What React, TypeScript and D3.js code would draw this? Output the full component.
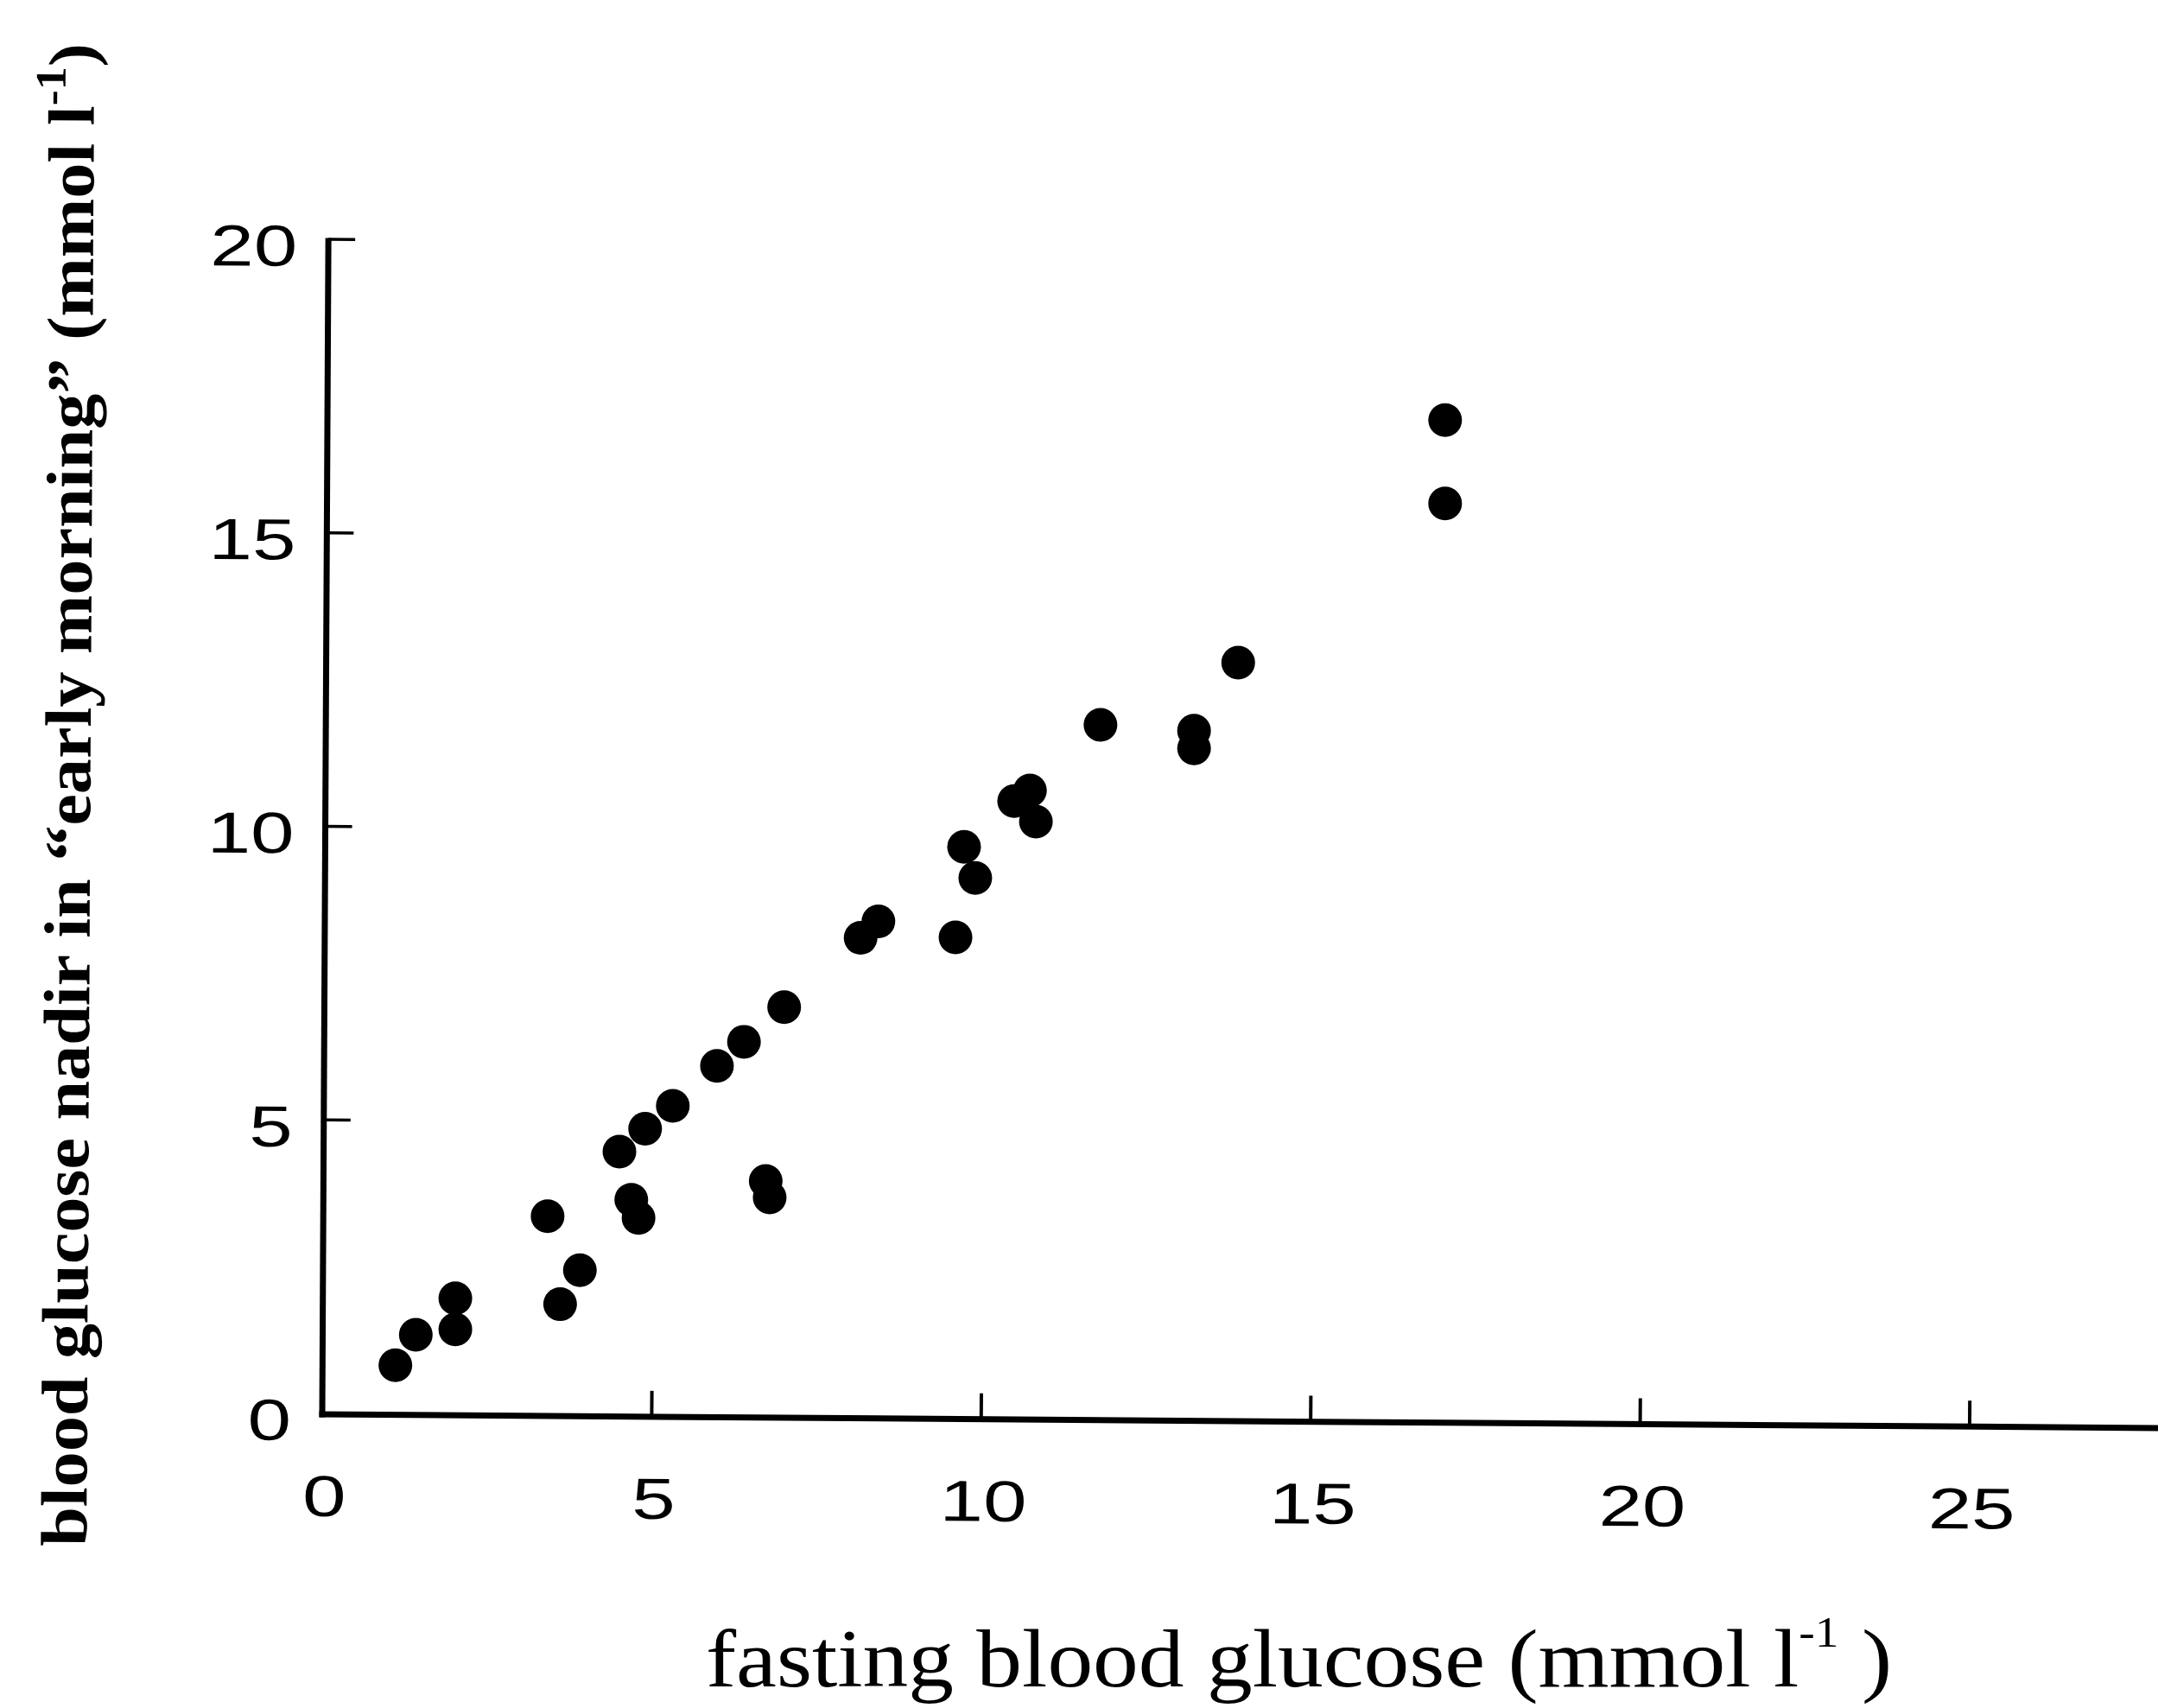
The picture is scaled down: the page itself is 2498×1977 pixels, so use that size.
import React from "react";
import * as d3 from "d3";

// fasting blood glucose (mmol/l) — x values
const fastingGlucose = [
  1.11, 1.42, 2.02, 2.02, 3.42, 3.61, 3.91, 4.51, 4.69, 4.8, 4.9, 5.32, 5.99, 6.4,
  6.73, 6.79, 7.01, 8.17, 8.44, 9.61, 9.74, 9.91, 10.5, 10.74, 10.83, 11.81, 13.23,
  13.23, 13.9, 17.04, 17.04,
];
// blood glucose nadir in "early morning" (mmol/l) — y values
const nadirGlucose = [
  0.82, 1.34, 1.96, 1.43, 3.36, 1.86, 2.44, 4.46, 3.64, 3.33, 4.85, 5.24, 5.92, 6.33,
  3.96, 3.68, 6.92, 8.1, 8.38, 8.11, 9.65, 9.12, 10.43, 10.61, 10.08, 11.73, 11.63,
  11.33, 12.79, 16.92, 15.5,
];
const xTickValues = [0, 5, 10, 15, 20, 25];
const yTickValues = [0, 5, 10, 15, 20];
const xTitleMain = "fasting blood glucose (mmol l";
const yTitleMain = "blood glucose nadir in \u201Cearly morning\u201D (mmol l";
const unitSup = "-1";

const W = 2498;
const H = 1977;
const X0 = 373;
const Y0 = 1637;

export default function App() {
  const x = d3.scaleLinear().domain([0, 25]).range([373, 2280]);
  const y = d3.scaleLinear().domain([0, 20]).range([1636, 277]);
  const points = fastingGlucose.map((v, i) => [v, nadirGlucose[i]]);
  const sans = "'Liberation Sans', Arial, sans-serif";
  const serif = "'Liberation Serif', 'Times New Roman', serif";

  return (
    <svg
      width={W}
      height={H}
      viewBox={`0 0 ${W} ${H}`}
      style={{ position: "absolute", left: 0, top: 0, background: "#fff" }}
    >
      <rect width={W} height={H} fill="#fff" />

      {/* Y axis */}
      <g transform={`rotate(0.3 ${X0} ${Y0})`}>
        <line x1={X0} x2={X0} y1={y(20) - 1.5} y2={Y0 + 3.5} stroke="#000" strokeWidth={7} />
        {yTickValues
          .filter((v) => v > 0)
          .map((v) => (
            <line key={v} x1={X0} x2={X0 + 31} y1={y(v)} y2={y(v)} stroke="#000" strokeWidth={3.5} />
          ))}
        {yTickValues.map((v) => (
          <text
            key={v}
            transform={`translate(337 ${y(v) + 31}) scale(1.35 1)`}
            textAnchor="end"
            fontFamily={sans}
            fontSize={67}
            fill="#000"
          >
            {v}
          </text>
        ))}
      </g>

      {/* X axis */}
      <g transform={`rotate(0.43 ${X0} ${Y0})`}>
        <line x1={X0 - 3.5} x2={W + 20} y1={Y0} y2={Y0} stroke="#000" strokeWidth={7} />
        {xTickValues
          .filter((v) => v > 0)
          .map((v) => (
            <line key={v} x1={x(v)} x2={x(v)} y1={Y0} y2={Y0 - 30} stroke="#000" strokeWidth={4} />
          ))}
        {xTickValues.map((v) => (
          <text
            key={v}
            transform={`translate(${x(v) + 3} ${Y0 + 118}) scale(1.35 1)`}
            textAnchor="middle"
            fontFamily={sans}
            fontSize={67}
            fill="#000"
          >
            {v}
          </text>
        ))}
      </g>

      {/* points */}
      {points.map(([a, b], i) => (
        <circle key={i} cx={x(a)} cy={y(b)} r={19.5} fill="#000" />
      ))}

      {/* X title */}
      <text
        x={817}
        y={1952}
        fontFamily={serif}
        fontSize={95}
        fill="#000"
        textLength={1373}
        lengthAdjust="spacingAndGlyphs"
      >
        {xTitleMain}
        <tspan dy={-46} fontSize={50}>{unitSup}</tspan>
        <tspan dy={46}>{" )"}</tspan>
      </text>

      {/* Y title */}
      <text
        transform="translate(100 1790) rotate(-89.7)"
        fontFamily={serif}
        fontWeight="bold"
        fontSize={76}
        fill="#000"
        textLength={1740}
        lengthAdjust="spacingAndGlyphs"
      >
        {yTitleMain}
        <tspan dy={-33} fontSize={50}>{unitSup}</tspan>
        <tspan dy={33}>{")"}</tspan>
      </text>
    </svg>
  );
}
